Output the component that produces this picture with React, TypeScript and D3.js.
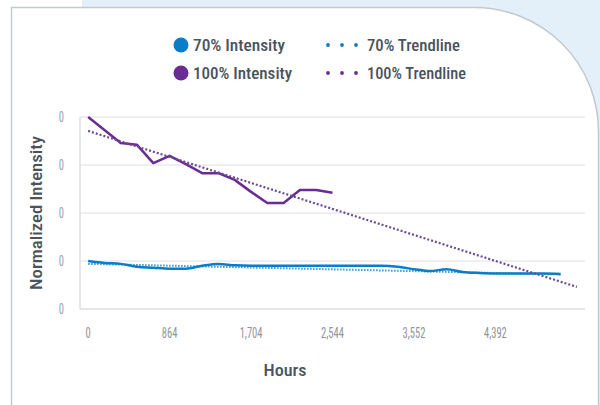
import * as d3 from 'd3';

// category positions along the hours axis (one per measurement)
const categories = d3.range(31);
const xTickLabels = ['0', '864', '1,704', '2,544', '3,552', '4,392'];
const xTickEvery = 5;
const yTicks = [0.6, 0.7, 0.8, 0.9, 1.0];
const yTickLabels = ['0', '0', '0', '0', '0'];

const intensity100 = [
  1.0, 0.973, 0.946, 0.942, 0.904, 0.919, 0.902, 0.883, 0.883, 0.869, 0.844,
  0.821, 0.821, 0.848, 0.848, 0.842,
];
const intensity70 = [
  0.7, 0.696, 0.694, 0.688, 0.686, 0.684, 0.684, 0.69, 0.694, 0.691, 0.69, 0.69,
  0.69, 0.69, 0.69, 0.69, 0.69, 0.69, 0.69, 0.688, 0.683, 0.679, 0.683, 0.677,
  0.675, 0.674, 0.674, 0.674, 0.674, 0.673,
];
// trendline end points [category, value]
const trend100: [number, number][] = [[0, 0.971], [30, 0.646]];
const trend70: [number, number][] = [[0, 0.694], [29, 0.672]];

const BLUE = '#0a7dc8';
const PURPLE = '#6a2c93';
const TEXT = '#4a535c';
const FONT = "'Roboto Condensed', 'Liberation Sans Narrow', 'DejaVu Sans Condensed', Roboto, sans-serif";

const W = 600;
const H = 405;
const plot = { left: 80, right: 585, top: 117, bottom: 309 };

export default function App() {
  const x = d3
    .scalePoint<number>()
    .domain(categories)
    .range([plot.left, plot.right])
    .padding(0.5);
  const y = d3.scaleLinear().domain([0.6, 1.0]).range([plot.bottom, plot.top]);

  const line100 = d3
    .line<number>()
    .x((_, i) => x(categories[i]) as number)
    .y((d) => y(d));
  const line70 = d3
    .line<number>()
    .x((_, i) => x(categories[i]) as number)
    .y((d) => y(d))
    .curve(d3.curveMonotoneX);
  const trendLine = d3
    .line<[number, number]>()
    .x((d) => x(d[0]) as number)
    .y((d) => y(d[1]));

  // card outline with big rounded top-right corner
  const r = 124;
  const cardL = 11.5;
  const cardT = 7.5;
  const cardR = 598.5;
  const card = `M${cardL},${H + 5} L${cardL},${cardT} L${cardR - r},${cardT} A${r},${r} 0 0 1 ${cardR},${cardT + r} L${cardR},${H + 5}`;

  const legend = [
    { label: '70% Intensity', color: BLUE, width: 92, dotted: false, lx: 181, ly: 45 },
    { label: '100% Intensity', color: PURPLE, width: 99, dotted: false, lx: 181, ly: 73 },
    { label: '70% Trendline', color: BLUE, width: 93, dotted: true, lx: 328, ly: 45 },
    { label: '100% Trendline', color: PURPLE, width: 99, dotted: true, lx: 328, ly: 73 },
  ];

  return (
    <>
      <style>{'body{margin:0}'}</style>
      <svg width={W} height={H} style={{ display: 'block' }} fontFamily={FONT}>
        <rect x={0} y={0} width={W} height={H} fill="#ffffff" />
        <rect x={82} y={0} width={W - 82} height={H} fill="#e3f0fa" />
        <path d={card} fill="#ffffff" stroke="#c4c9ce" strokeWidth={1.5} />

        {/* legend */}
        {legend.map((l) => (
          <g key={l.label}>
            {l.dotted ? (
              [0, 14, 28].map((dx) => (
                <circle key={dx} cx={l.lx + dx} cy={l.ly} r={1.9} fill={l.color} />
              ))
            ) : (
              <circle cx={l.lx} cy={l.ly} r={7.5} fill={l.color} />
            )}
            <text
              x={l.dotted ? l.lx + 39 : l.lx + 12}
              y={l.ly + 5.5}
              fontSize={16}
              fontWeight={500}
              fill={TEXT}
              textLength={l.width}
              lengthAdjust="spacingAndGlyphs"
            >
              {l.label}
            </text>
          </g>
        ))}

        {/* grid */}
        {yTicks.map((t, i) => (
          <g key={t}>
            <line
              x1={plot.left}
              x2={plot.right}
              y1={y(t)}
              y2={y(t)}
              stroke={i === 0 ? '#dcdfe2' : '#e8eaec'}
              strokeWidth={1.5}
            />
            <text
              transform={`translate(64,${y(t) + 5}) scale(0.75,1)`}
              fontSize={14}
              fill="#9aa0a6"
              textAnchor="end"
            >
              {yTickLabels[i]}
            </text>
          </g>
        ))}
        <line
          x1={plot.left}
          x2={plot.left}
          y1={plot.top}
          y2={plot.bottom}
          stroke="#dcdfe2"
          strokeWidth={1.5}
        />

        {xTickLabels.map((lab, i) => (
          <text
            key={lab}
            transform={`translate(${x(categories[i * xTickEvery])},338) scale(0.75,1)`}
            fontSize={14}
            fill="#8d949b"
            textAnchor="middle"
          >
            {lab}
          </text>
        ))}

        {/* series */}
        <path d={trendLine(trend70) ?? ''} fill="none" stroke={BLUE} strokeWidth={2} strokeDasharray="1.5,1.5" opacity={0.8} />
        <path d={line70(intensity70) ?? ''} fill="none" stroke={BLUE} strokeWidth={2.5} strokeLinejoin="round" />
        <path d={line100(intensity100) ?? ''} fill="none" stroke={PURPLE} strokeWidth={2.5} strokeLinejoin="round" />
        <path d={trendLine(trend100) ?? ''} fill="none" stroke="#6b4a95" strokeWidth={2.2} strokeDasharray="2,2" />

        {/* axis titles */}
        <text
          transform="translate(42,213) rotate(-90)"
          textAnchor="middle"
          fontSize={17}
          fontWeight={500}
          fill={TEXT}
          textLength={154}
          lengthAdjust="spacingAndGlyphs"
        >
          Normalized Intensity
        </text>
        <text
          x={285}
          y={376}
          textAnchor="middle"
          fontSize={17}
          fontWeight={500}
          fill={TEXT}
          textLength={43}
          lengthAdjust="spacingAndGlyphs"
        >
          Hours
        </text>
      </svg>
    </>
  );
}
